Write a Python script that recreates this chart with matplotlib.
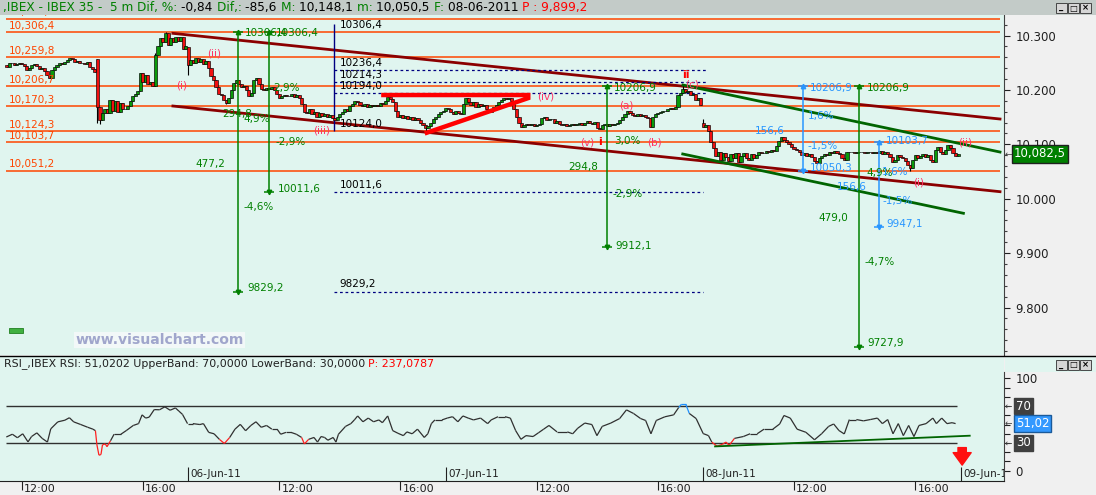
import matplotlib
matplotlib.use("Agg")
import matplotlib.pyplot as plt
import matplotlib.transforms as mtransforms
from matplotlib.collections import LineCollection
from matplotlib.patches import Rectangle
from matplotlib.ticker import FixedLocator, MultipleLocator, FuncFormatter

W, H = 1096, 495
MINT = '#e0f5ef'
PANEL = '#f0f0f0'
GREEN = '#008000'
DKGREEN = '#006400'
BLUE = '#2896ff'
ORANGE = '#ff4500'
MAROON = '#8b0000'
NAVY = '#000080'
WAVE = '#ff3366'

# ---- 5 min bars, bar 0 = 03-Jun-11 09:00, 102 bars per session ----
first_bar = 30
closes = [
    10243, 10250, 10249, 10245, 10247, 10250, 10248, 10244, 10236, 10240,
    10246, 10248, 10244, 10238, 10240, 10234, 10228, 10222, 10236, 10242,
    10246, 10250, 10248, 10252, 10255, 10258, 10256, 10252, 10254, 10250,
    10250, 10248, 10251, 10243, 10238, 10233, 10168, 10145, 10158, 10165,
    10158, 10182, 10162, 10180, 10160, 10176, 10165, 10164, 10170, 10180,
    10188, 10192, 10198, 10232, 10215, 10228, 10210, 10214, 10208, 10265,
    10280, 10295, 10288, 10304, 10282, 10295, 10288, 10298, 10290, 10297,
    10275, 10280, 10246, 10255, 10250, 10258, 10252, 10256, 10248, 10254,
    10240, 10225, 10218, 10205, 10192, 10190, 10182, 10176, 10186, 10200,
    10212, 10218, 10210, 10206, 10208, 10200, 10188, 10195, 10218, 10222,
    10210, 10202, 10200, 10204, 10202, 10205, 10200, 10192, 10186, 10188,
    10190, 10188, 10189, 10192, 10187, 10190, 10186, 10175, 10160, 10158,
    10165, 10155, 10160, 10150, 10158, 10152, 10155, 10150, 10153, 10148,
    10145, 10150, 10156, 10160, 10165, 10162, 10170, 10175, 10180, 10178,
    10172, 10170, 10175, 10169, 10172, 10170, 10173, 10171, 10176, 10175,
    10180, 10187, 10184, 10178, 10162, 10150, 10154, 10148, 10152, 10146,
    10150, 10145, 10148, 10144, 10140, 10135, 10130, 10134, 10140, 10146,
    10150, 10155, 10160, 10162, 10167, 10165, 10160, 10155, 10162, 10158,
    10156, 10175, 10185, 10178, 10172, 10178, 10168, 10175, 10170, 10173,
    10165, 10160, 10163, 10168, 10172, 10178, 10182, 10185, 10183, 10186,
    10180, 10165, 10150, 10140, 10132, 10136, 10138, 10135, 10137, 10134,
    10136, 10138, 10148, 10150, 10145, 10147, 10146, 10140, 10142, 10138,
    10136, 10137, 10134, 10136, 10138, 10135, 10137, 10139, 10136, 10140,
    10142, 10140, 10138, 10141, 10130, 10128, 10135, 10137, 10134, 10138,
    10136, 10138, 10140, 10145, 10150, 10155, 10162, 10158, 10154, 10152,
    10156, 10152, 10154, 10150, 10148, 10132, 10150, 10156, 10158, 10160,
    10162, 10161, 10164, 10166, 10165, 10168, 10190, 10195, 10202, 10196,
    10198, 10190, 10192, 10182, 10185, 10172, 10132, 10136, 10124, 10104,
    10094, 10078, 10086, 10072, 10084, 10076, 10070, 10082, 10074, 10084,
    10068, 10078, 10084, 10074, 10072, 10082, 10074, 10080, 10086, 10084,
    10084, 10087, 10086, 10090, 10088, 10096, 10106, 10113, 10108, 10104,
    10100, 10095, 10092, 10090, 10086, 10080, 10084, 10078, 10082, 10077,
    10070, 10066, 10074, 10078, 10082, 10080, 10086, 10084, 10087, 10084,
    10082, 10074, 10071, 10086, 10085, 10086, 10084, 10086, 10085, 10086,
    10084, 10086, 10085, 10084, 10086, 10084, 10087, 10083, 10085, 10082,
    10076, 10068, 10072, 10080, 10076, 10074, 10070, 10062, 10056, 10072,
    10080, 10074, 10078, 10082, 10076, 10080, 10072, 10068, 10090, 10095,
    10086, 10082, 10090, 10098, 10094, 10084, 10078, 10082.5,
]
open_gaps = {30: 10246, 66: 10257, 102: 10279, 306: 10140}
high_marks = {66: 10257, 89: 10268, 93: 10306.4, 102: 10279, 298: 10206.9, 306: 10146, 337: 10114}
low_marks = {66: 10139, 67: 10138, 102: 10227, 117: 10174, 196: 10124.0, 388: 10050.3}
last_price = 10082.5
last_rsi = 51.02

# RSI (bar position, value)
rsi_bar = [
    29.9, 32.3, 34.3, 36.4, 38.5, 39.9, 42.0, 44.1, 46.2, 47.5,
    50.3, 53.1, 54.9, 56.6, 59.4, 62.1, 64.2, 65.2, 65.8, 66.6,
    67.4, 68.0, 69.1, 69.8, 71.2, 72.6, 75.3, 77.4, 80.2, 82.3,
    83.7, 85.1, 86.5, 88.5, 90.6, 92.7, 94.8, 96.9, 98.3, 99.7,
    101.7, 103.8, 106.6, 108.0, 110.1, 112.2, 114.3, 116.3, 118.4, 120.5,
    122.6, 124.7, 126.8, 128.8, 130.9, 133.0, 135.1, 137.2, 138.6, 140.7,
    142.7, 144.8, 146.9, 148.0, 149.7, 151.8, 153.2, 154.6, 156.0, 157.3,
    159.4, 160.5, 161.5, 164.3, 166.4, 167.8, 169.1, 171.2, 173.3, 175.4,
    177.5, 178.9, 181.0, 183.0, 185.1, 187.2, 188.6, 190.7, 192.8, 195.5,
    196.9, 198.3, 199.7, 202.5, 204.6, 206.7, 208.8, 210.8, 212.9, 215.0,
    217.8, 220.6, 222.0, 224.7, 227.5, 229.6, 231.7, 233.8, 235.8, 238.6,
    240.7, 242.8, 244.9, 248.1, 252.2, 254.3, 256.3, 259.1, 261.9, 263.9,
    266.0, 269.4, 272.9, 275.6, 278.4, 281.2, 283.2, 285.3, 287.4, 290.8,
    294.3, 296.3, 297.4, 299.1, 300.5, 303.2, 306.0, 308.1, 309.4, 311.5,
    313.6, 315.0, 316.3, 318.4, 321.9, 324.6, 327.4, 330.1, 333.6, 336.3,
    338.0, 340.5, 343.2, 346.7, 350.1, 352.9, 355.7, 357.7, 359.8, 361.9,
    363.9, 366.7, 369.5, 372.2, 375.0, 377.0, 379.1, 381.2, 383.3, 385.3,
    387.4, 389.5, 391.5, 394.3, 397.0, 398.4, 400.5, 402.6, 404.6, 406.0,
]
rsi_val = [
    36.5, 39.5, 35.7, 40, 31.2, 37, 41, 35, 31, 45.3,
    52.9, 54.7, 57.4, 52.9, 50, 47.1, 45, 43.4, 28, 16.8,
    17.5, 28, 29, 26, 32.5, 39.5, 39.5, 43.4, 49, 51,
    60.5, 57, 58, 66.2, 66, 69.2, 65.5, 68, 64.5, 61,
    51, 51, 50, 51, 41.5, 40, 34, 29.5, 36, 45,
    50.2, 43.3, 49, 53, 47, 49, 45, 45, 39.5, 41.5,
    41.5, 39.5, 36, 29, 34, 36, 31, 37, 36, 33,
    36, 31, 39.5, 48, 51, 55, 59.3, 53, 57, 53,
    55, 52, 59.3, 43.4, 40.5, 38, 42, 40, 45, 36,
    40, 51, 55, 55, 57, 58.5, 53, 59.3, 57, 55,
    57, 51, 55, 58.5, 58.5, 57, 43.4, 34, 38, 37,
    41, 45, 49, 42, 42, 40, 46, 51.6, 50, 38,
    48, 51.6, 56.5, 65.9, 62, 56.5, 54.4, 40, 54.4, 58.4,
    60.5, 68.5, 72, 72, 62, 56.5, 40.2, 38, 31, 26.5,
    28.5, 31, 27.5, 35, 37, 40, 40, 45, 45, 50.6,
    59.8, 57, 45, 41.6, 33.5, 40, 48, 50.6, 43.5, 39.8,
    55.4, 55.4, 54, 55.4, 57, 51, 55.4, 40, 51, 38,
    49, 37, 49, 51, 57, 51, 57, 51, 52, 51.02,
]
rsi_upper, rsi_lower = 70, 30
rsi_trend = ([310.7, 411.6], [26.3, 37.9])
signal_bar = 408.6

# session axis
day_starts = [102, 204, 306, 408]
day_labels = ['06-Jun-11', '07-Jun-11', '08-Jun-11', '09-Jun-11']
time_ticks = [36, 84, 138, 186, 240, 288, 342, 390]
time_labels = ['12:00', '16:00', '12:00', '16:00', '12:00', '16:00', '12:00', '16:00']

# horizontal levels (orange) with left labels
levels = [10331.1, 10306.4, 10259.8, 10206.7, 10170.3, 10124.3, 10103.7, 10051.2]
level_labels = ['10,331,1', '10,306,4', '10,259,8', '10,206,7', '10,170,3', '10,124,3', '10,103,7', '10,051,2']
level_span = (29.8, 423.6)

# channels
chan_upper = ([95.9, 423.6], [10304.0, 10146.5])
chan_lower = ([95.9, 423.6], [10170.4, 10012.9])
green_upper = ([298.0, 423.6], [10209.0, 10085.8])
green_lower = ([297.9, 409.1], [10082.2, 9973.2])

# triangle (iv)
tri_bar = [179.3, 236.7, 236.7, 196.5]
tri_price = [10190.6, 10190.6, 10185.0, 10121.3]

# fibonacci projection
fib_bar = 159.7
fib_vert = (10322.0, 10124.0)
fib_dash_hi = [10236.4, 10214.3, 10194.0]
fib_dash_lo = [10011.6, 9829.2]
fib_dash_hi_end = 307.1
fib_dash_lo_end = 305.9
fib_labels = ['10306,4', '10236,4', '10214,3', '10194,0', '10124,0', '10011,6', '9829,2']
fib_label_prices = [10306.4, 10236.4, 10214.3, 10194.0, 10124.0, 10011.6, 9829.2]

# measuring arrows: bar, top, bottom, colour
measures = [
    (121.8, 10306.4, 9829.2, GREEN),
    (134.1, 10306.4, 10011.6, GREEN),
    (267.8, 10206.9, 9912.1, GREEN),
    (367.7, 10206.9, 9727.9, GREEN),
    (345.5, 10206.9, 10050.3, BLUE),
    (375.6, 10103.7, 9947.1, BLUE),
]
measure_text = [
    (124.5, 10304.6, '10306,4', GREEN), (136.8, 10304.6, '10306,4', GREEN),
    (104.7, 10063.8, '477,2', GREEN), (123.7, 10146.5, '4,9%', GREEN),
    (123.7, 9984.4, '-4,6%', GREEN), (125.3, 9835.8, '9829,2', GREEN),
    (115.4, 10155.7, '294,8', GREEN), (135.6, 10203.5, '2,9%', GREEN),
    (136.4, 10104.2, '-2,9%', GREEN), (137.6, 10017.8, '10011,6', GREEN),
    (270.7, 10203.5, '10206,9', GREEN), (270.7, 10106.0, '3,0%', GREEN),
    (252.4, 10058.0, '294,8', GREEN), (269.9, 10008.0, '-2,9%', GREEN),
    (271.1, 9913.0, '9912,1', GREEN),
    (370.9, 10203.5, '10206,9', GREEN), (370.5, 10047.0, '4,9%', GREEN),
    (351.5, 9964.5, '479,0', GREEN), (370.1, 9883.6, '-4,7%', GREEN),
    (370.9, 9734.7, '9727,9', GREEN),
    (348.3, 10203.5, '10206,9', BLUE), (347.5, 10152.0, '1,6%', BLUE),
    (326.5, 10124.5, '156,6', BLUE), (347.5, 10096.9, '-1,5%', BLUE),
    (348.3, 10056.4, '10050,3', BLUE),
    (378.4, 10106.0, '10103,7', BLUE), (376.8, 10049.0, '1,6%', BLUE),
    (359.0, 10021.5, '156,6', BLUE), (377.2, 9995.8, '-1,5%', BLUE),
    (378.4, 9953.5, '9947,1', BLUE),
]

# elliott wave labels
waves = [
    (97.2, 10209.0, '(i)', False), (109.5, 10267.8, '(ii)', False),
    (151.5, 10126.3, '(iii)', False), (240.2, 10187.0, '(iv)', False),
    (257.2, 10104.2, '(v)', False), (264.4, 10104.2, 'i', True),
    (272.6, 10172.2, '(a)', False), (283.7, 10104.2, '(b)', False),
    (297.5, 10227.4, 'ii', True), (298.7, 10210.8, '(c)', False),
    (406.9, 10104.2, '(ii)', False), (389.1, 10030.7, '(i)', False),
]

title_pieces = [
    (',IBEX - IBEX 35 -  ', GREEN), ('5 m ', GREEN), ('Dif, %: ', GREEN),
    ('-0,84 ', 'black'), ('Dif,: ', GREEN), ('-85,6 ', 'black'),
    ('M: ', GREEN), ('10,148,1 ', 'black'), ('m: ', GREEN),
    ('10,050,5 ', 'black'), ('F: ', GREEN), ('08-06-2011 ', 'black'),
    ('P : 9,899,2', 'red'),
]
rsi_pieces = [
    ('RSI_,IBEX RSI: 51,0202 UpperBand: 70,0000 LowerBand: 30,0000 ', '#202020'),
    ('P: 237,0787', 'red'),
]

# ---------------------------------------------------------------
plt.rcParams['font.family'] = ['DejaVu Sans']
fig = plt.figure(figsize=(W / 100, H / 100), dpi=100)
fig.patch.set_facecolor(PANEL)


def px_axes(x0, y0, x1, y1):
    return fig.add_axes([x0 / W, 1 - y1 / H, (x1 - x0) / W, (y1 - y0) / H])


def fig_rect(x0, y0, x1, y1, **kw):
    fig.add_artist(Rectangle((x0 / W, 1 - y1 / H), (x1 - x0) / W, (y1 - y0) / H,
                             transform=fig.transFigure, **kw))


def right_of(ax):
    return mtransforms.blended_transform_factory(ax.transAxes, ax.transData)


def comma_num(v):
    return f'{v:,.1f}'.replace(',', ';').replace('.', ',').replace(';', ',')


XLIM = (27.40, 425.18)

# ---------------- main price panel ----------------
ax = px_axes(0, 15, 1004, 355)
ax.set_facecolor(MINT)
ax.set_xlim(*XLIM)
ax.set_ylim(9712.7, 10337.7)
for s in ['top', 'left', 'bottom']:
    ax.spines[s].set_visible(False)
ax.spines['right'].set_color('#404040')
ax.set_xticks([])
ax.yaxis.tick_right()
ax.yaxis.set_major_locator(FixedLocator([9800, 9900, 10000, 10100, 10200, 10300]))
ax.yaxis.set_minor_locator(MultipleLocator(20))
ax.yaxis.set_major_formatter(FuncFormatter(lambda v, p: f'{int(v):,}'.replace(',', '.')))
ax.tick_params(axis='y', which='major', length=4.3, width=0.8, pad=4, labelsize=8.5,
               colors='#202020')
ax.tick_params(axis='y', which='minor', length=2.4, width=0.8, colors='#404040')

# orange levels
ax.hlines(levels, *level_span, color=ORANGE, lw=1.1, zorder=2)
above = mtransforms.offset_copy(ax.transData, fig=fig, y=1.0, units='points')
for lv, lab in zip(levels, level_labels):
    ax.text(31.0, lv, lab, transform=above, color=ORANGE, fontsize=7.5,
            va='bottom', ha='left', zorder=6, clip_on=True)

# channels
ax.plot(*chan_upper, color=MAROON, lw=2.0, zorder=2.5)
ax.plot(*chan_lower, color=MAROON, lw=2.0, zorder=2.5)
ax.plot(*green_upper, color=DKGREEN, lw=2.0, zorder=2.5)
ax.plot(*green_lower, color=DKGREEN, lw=2.0, zorder=2.5)

# fibonacci projection
ax.vlines(fib_bar, fib_vert[1], fib_vert[0], color=NAVY, lw=1.0, zorder=2.5)
ax.hlines(fib_dash_hi, fib_bar, fib_dash_hi_end, color=NAVY, lw=0.9,
          linestyles=(0, (2.2, 2.2)), zorder=2.5)
ax.hlines(fib_dash_lo, fib_bar, fib_dash_lo_end, color=NAVY, lw=0.9,
          linestyles=(0, (2.2, 2.2)), zorder=2.5)
for lab, pr in zip(fib_labels, fib_label_prices):
    ax.annotate(lab, (fib_bar + 2.2, pr), xytext=(0, 1.6), textcoords='offset points',
                color='black', fontsize=7.5, va='bottom', ha='left', zorder=6)

# candles
bars = list(range(first_bar, first_bar + len(closes)))
opens, highs, lows, cols = [], [], [], []
for k, b in enumerate(bars):
    o = open_gaps.get(b, closes[k - 1] if k else closes[0])
    c = closes[k]
    opens.append(o)
    highs.append(max(o, c, high_marks.get(b, c)))
    lows.append(min(o, c, low_marks.get(b, c)))
    cols.append('#0a9a0a' if c >= o else '#f01010')
ax.vlines(bars, lows, highs, color='black', lw=0.8, zorder=3)
ax.bar(bars, [abs(c - o) for o, c in zip(opens, closes)],
       bottom=[min(o, c) for o, c in zip(opens, closes)], width=1.25,
       color=cols, edgecolor='black', linewidth=0.45, zorder=4)

# triangle
ax.plot(tri_bar, tri_price, color='#ff0000', lw=3.2, solid_joinstyle='miter', zorder=5)

# measuring arrows
for b, top, bot, col in measures:
    ax.plot([b, b], [top, bot], color=col, lw=1.1, zorder=5)
    ax.plot([b, b], [top, bot], ls='none', marker='_', ms=7, mew=1.1, color=col, zorder=5)
    ax.plot([b], [top], marker='^', ms=3.2, color=col, zorder=5)
    ax.plot([b], [bot], marker='v', ms=3.2, color=col, zorder=5)
for b, pr, s, col in measure_text:
    ax.text(b, pr, s, color=col, fontsize=7.5, va='center', ha='left', zorder=6)

# wave labels
for b, pr, s, bold in waves:
    ax.text(b, pr, s, color='#ff0000' if bold else WAVE, fontsize=8 if bold else 7.5,
            fontweight='bold' if bold else 'normal', va='center', ha='left', zorder=6)

# last price box
ax.text(1.0 + 10 / 1004, last_price, comma_num(last_price),
        transform=right_of(ax), color='white', fontsize=8.5, va='center', ha='left',
        bbox=dict(boxstyle='square,pad=0.2', fc=GREEN, ec='#202020', lw=1), clip_on=False, zorder=8)
ax.text(1.0 + 1 / 1004, last_price, '←', transform=right_of(ax), color='#404040',
        fontsize=6.5, va='center', ha='left', clip_on=False)

# watermark and small marker
fig.text(75 / W, 1 - 340 / H, 'www.visualchart.com', fontweight='bold', color='#a0a6cc',
         fontsize=10.1, va='center', ha='left',
         bbox=dict(boxstyle='square,pad=0.1', fc='#f2f8f8', ec='none'), zorder=7)
fig_rect(9, 328, 23, 333, fc='#40b040', ec='#208020', lw=0.6, zorder=7)

# ---------------- RSI panel ----------------
axr = px_axes(0, 357, 1004, 481)
axr.set_facecolor(MINT)
axr.set_xlim(*XLIM)
axr.set_ylim(-11.19, 123.2)
for s in ['top', 'left']:
    axr.spines[s].set_visible(False)
axr.spines['bottom'].set_color('#202020')
axr.spines['right'].set_color('#404040')
axr.spines['right'].set_bounds(-11.19, 107.4)
axr.set_xticks([])
axr.yaxis.tick_right()
axr.set_yticks(range(0, 101, 10))
axr.yaxis.set_major_formatter(FuncFormatter(lambda v, p: '100' if v == 100 else ('0' if v == 0 else '')))
axr.tick_params(axis='y', length=4.3, width=0.8, pad=4, labelsize=8.5, colors='#202020')

axr.hlines([rsi_upper, rsi_lower], 29.8, 406.6, color='#303030', lw=1.0, zorder=3)
pts = list(zip(rsi_bar, rsi_val))
segs, seg_cols = [], []
for p0, p1 in zip(pts[:-1], pts[1:]):
    segs.append([p0, p1])
    lo, hi = min(p0[1], p1[1]), max(p0[1], p1[1])
    seg_cols.append('#ff2020' if lo < rsi_lower else ('#1e90ff' if hi > rsi_upper else '#303030'))
axr.add_collection(LineCollection(segs, colors=seg_cols, linewidths=0.9, zorder=4))
axr.plot(*rsi_trend, color=DKGREEN, lw=1.3, zorder=4)

for val, lab, fc in [(rsi_upper, '70', '#404040'), (last_rsi, '51,02', '#3399ff'),
                     (rsi_lower, '30', '#404040')]:
    axr.text(1.0 + 12 / 1004, val, lab, transform=right_of(axr), color='white', fontsize=8.5,
             va='center', ha='left', clip_on=False, zorder=8,
             bbox=dict(boxstyle='square,pad=0.15', fc=fc, ec='#1a5a9a' if lab == '51,02' else fc))
    axr.text(1.0 + 1 / 1004, val, '←', transform=right_of(axr), color='#404040',
             fontsize=6.5, va='center', ha='left', clip_on=False)

# red signal arrow
axr.annotate('', xy=(signal_bar, 6.0), xytext=(signal_bar, 25.0),
             arrowprops=dict(arrowstyle='simple,head_width=1.3,head_length=0.9,tail_width=0.6',
                             fc='#ff1010', ec='#ff1010', shrinkA=0, shrinkB=0), zorder=6)

# date labels inside the RSI panel
xf = axr.get_xaxis_transform()
axr.vlines(day_starts, 0, 0.109, transform=xf, color='#202020', lw=0.8)
for b, lab in zip(day_starts, day_labels):
    axr.text(b + 0.9, 0.06, lab, transform=xf, fontsize=7.5, color='#202020',
             va='center', ha='left', clip_on=True)

# time axis below
axr.vlines(time_ticks, -0.075, 0, transform=xf, color='#202020', lw=0.8, clip_on=False)
for b, lab in zip(time_ticks, time_labels):
    axr.text(b + 0.9, -0.066, lab, transform=xf, fontsize=8, color='#202020',
             va='center', ha='left', clip_on=False)

# ---------------- frame pieces ----------------
fig_rect(1004.5, 357, W, 371.6, fc=MINT, ec='none', zorder=0.5)
fig.add_artist(plt.Line2D([0, 1], [1 - 356 / H, 1 - 356 / H], transform=fig.transFigure,
                          color='black', lw=1.0, zorder=9))
fig_rect(0, 0, W, 15, fc='#c3cbc8', ec='none', zorder=10)


def buttons(y0):
    for k, g in enumerate(['_', '□', '×']):
        x0 = 1056 + k * 12
        fig_rect(x0, y0, x0 + 11, y0 + 10, fc='#d6d6d6', ec='#303030', lw=0.6, zorder=12)
        fig.text((x0 + 5.5) / W, 1 - (y0 + 5) / H, g, ha='center', va='center',
                 fontsize=6, fontweight='bold', zorder=13)


buttons(3)
buttons(360)

renderer = fig.canvas.get_renderer()


def text_run(x_px, y_px, pieces, size):
    x = x_px
    for s, c in pieces:
        t = fig.text(x / W, 1 - y_px / H, s, color=c, fontsize=size, ha='left',
                     va='center', zorder=11)
        x = t.get_window_extent(renderer).x1


text_run(3, 7.5, title_pieces, 8.7)
text_run(3.5, 364, rsi_pieces, 7.9)

fig.savefig('out.png', dpi=100, facecolor=fig.get_facecolor())
